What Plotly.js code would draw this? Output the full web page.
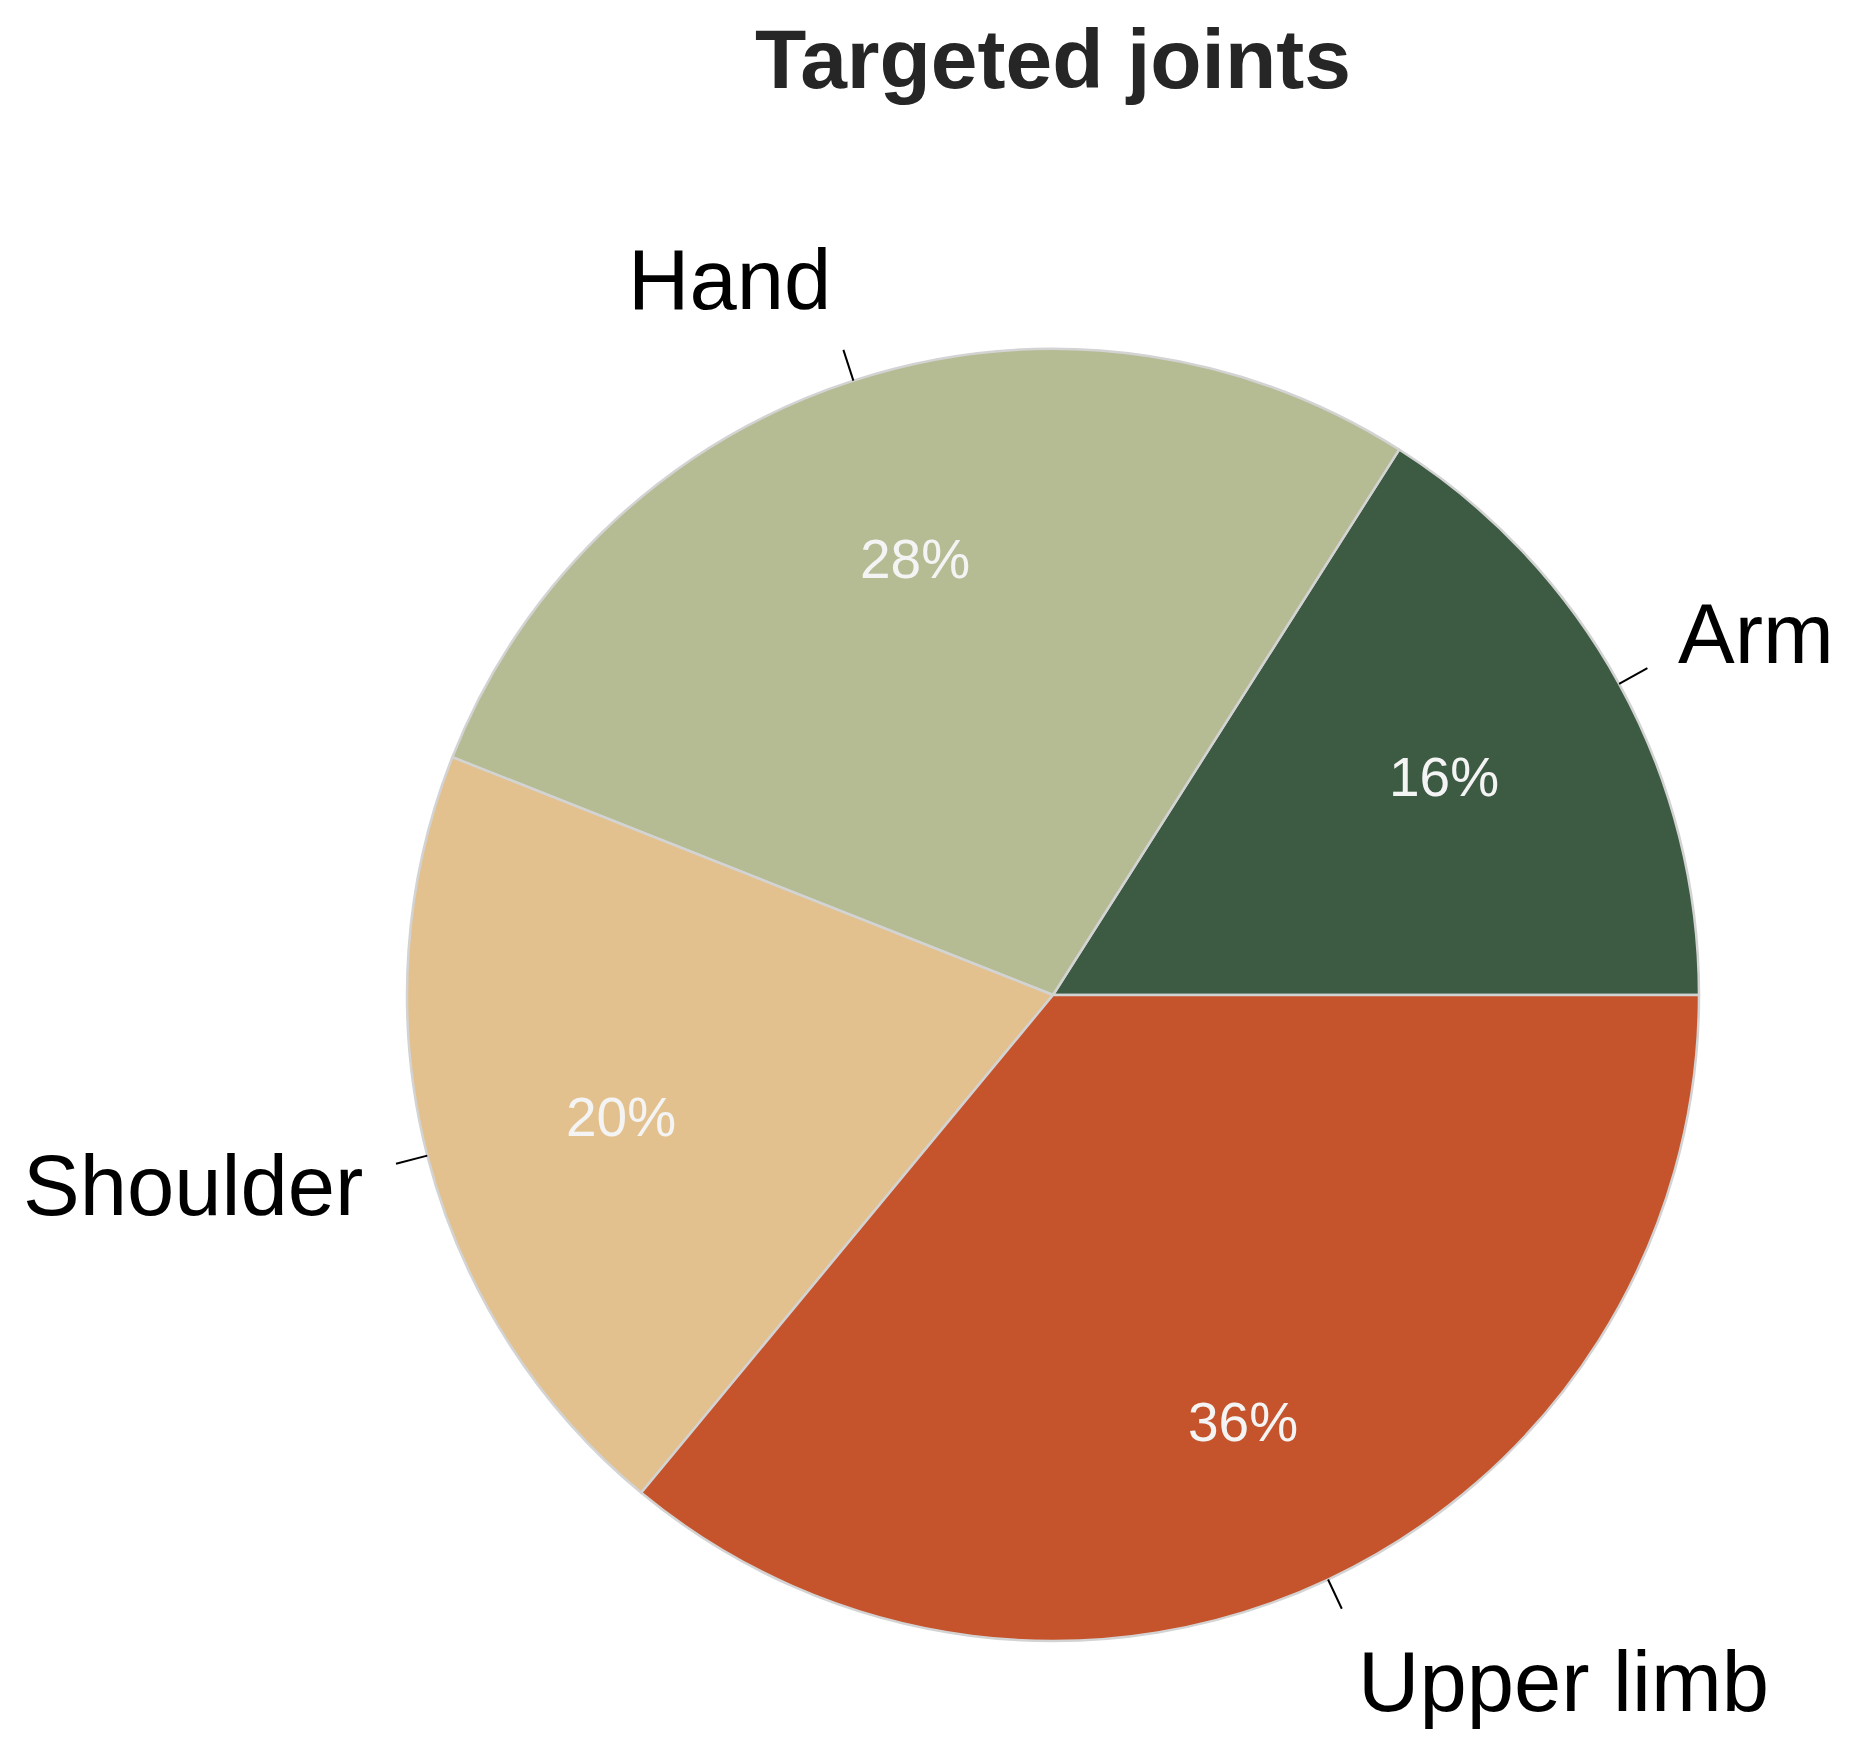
<!DOCTYPE html>
<html>
<head>
<meta charset="utf-8">
<script src="https://cdn.plot.ly/plotly-3.0.1.min.js"></script>
<style>
  html, body { margin: 0; padding: 0; background: #ffffff; }
  #chart { width: 1851px; height: 1750px; }
</style>
</head>
<body>
<div id="chart"></div>
<script>
// dados do gráfico
const joints = ['Arm', 'Hand', 'Shoulder', 'Upper limb'];
const shares = [16, 28, 20, 36];
const sliceColors = ['#3d5a42', '#b5bc93', '#e2c18e', '#c5532c'];

const W = 1851, H = 1750;
const CX = 1053, CY = 995, R = 646;

// pixel -> paper
const px = x => x / W;
const py = y => 1 - y / H;

const total = shares.reduce((a, b) => a + b, 0);
let start = 0;
const mids = shares.map(v => {
  const a = start + v / total * 360 / 2;
  start += v / total * 360;
  return a * Math.PI / 180;
});

const annotations = [];
const shapes = [];

mids.forEach((a, i) => {
  const c = Math.cos(a), s = Math.sin(a);
  // percentuais dentro das fatias
  annotations.push({
    xref: 'paper', yref: 'paper',
    x: px(CX + 0.69 * R * c), y: py(CY - 0.72 * R * s + 6),
    text: shares[i] + '%', showarrow: false,
    xanchor: 'center', yanchor: 'middle',
    font: { family: 'Liberation Sans, Arial, sans-serif', size: 55, color: '#f4f4f4' }
  });
  // traço de ligação
  shapes.push({
    type: 'line', xref: 'paper', yref: 'paper',
    x0: px(CX + R * c), y0: py(CY - R * s),
    x1: px(CX + 1.05 * R * c), y1: py(CY - 1.05 * R * s),
    line: { color: '#000000', width: 2 }
  });
  // rótulo externo
  annotations.push({
    xref: 'paper', yref: 'paper',
    x: px(CX + 1.1 * R * c), y: py(CY - 1.17 * R * s + 3),
    text: joints[i], showarrow: false,
    xanchor: c < 0 ? 'right' : 'left', yanchor: 'middle',
    font: { family: 'Liberation Sans, Arial, sans-serif', size: 85, color: '#000000' }
  });
});

const trace = {
  type: 'pie',
  labels: joints,
  values: shares,
  sort: false,
  direction: 'counterclockwise',
  // primeira fatia começa às 3 horas
  rotation: 90 - shares[0] / total * 360,
  textinfo: 'none',
  hoverinfo: 'label+percent',
  marker: { colors: sliceColors, line: { color: '#d3d3d3', width: 2.5 } },
  domain: { x: [px(CX - R), px(CX + R)], y: [py(CY + R), py(CY - R)] },
  showlegend: false
};

const layout = {
  width: W, height: H,
  margin: { l: 0, r: 0, t: 0, b: 0 },
  paper_bgcolor: '#ffffff',
  title: {
    text: '<b>Targeted joints</b>',
    x: px(1053), xref: 'paper', xanchor: 'center',
    y: py(59), yref: 'paper', yanchor: 'middle',
    font: { family: 'Liberation Sans, Arial, sans-serif', size: 84, color: '#262626' }
  },
  annotations: annotations,
  shapes: shapes
};

Plotly.newPlot('chart', [trace], layout, { displayModeBar: false });
</script>
</body>
</html>
